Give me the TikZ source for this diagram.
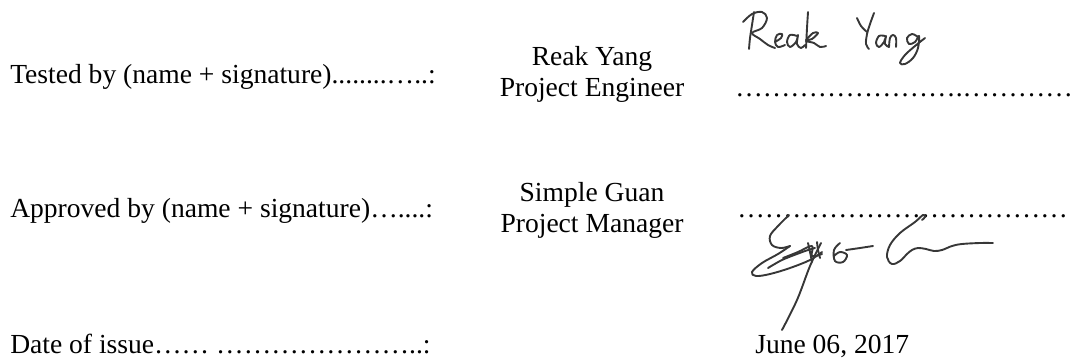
\documentclass[tikz,border=0pt]{standalone}
\usepackage{fontspec}
\setmainfont{Liberation Serif}
\definecolor{inkGray}{RGB}{55,55,55}

\begin{document}
\begin{tikzpicture}[
  x=0.025cm, y=-0.025cm,
  font=\fontsize{19.6}{23}\selectfont,
  field/.style={anchor=base west, inner sep=0pt},
  person/.style={anchor=base, inner sep=0pt},
  dotline/.style={anchor=base west, inner sep=0pt},
  ink/.style={draw=inkGray, line width=1.35pt, line cap=round, line join=round}
]
\useasboundingbox (0,0) rectangle (1076,361);

% Field labels on the left.
\node[field] (tested) at (10,83) {Tested by (name + signature)........…..:};
\node[field] (approved) at (10,217) {Approved by (name + signature)…....:};
\node[field] (issued) at (10,353) {Date of issue…… …………………..:};

% Names and roles.
\node[person] (testerName) at (592,65) {Reak Yang};
\node[person] (testerRole) at (592,97) {Project Engineer};
\node[person] (approverName) at (592,201) {Simple Guan};
\node[person] (approverRole) at (592,232) {Project Manager};
\node[field] (issueDate) at (755,353) {June 06, 2017};

% Signature lines.
\node[dotline] (testerLine) at (735,97) {\foreach \k in {1,...,8}{…}.\foreach \k in {1,...,4}{…}};
\node[dotline] (approverLine) at (737,217) {\foreach \k in {1,...,12}{…}};

% Handwritten signature of the tester.
\draw[ink] plot[smooth, tension=0.6] coordinates {(754,12) (752,25) (750,38) (749,49)};
\draw[ink] plot[smooth, tension=0.6] coordinates {(743,22) (752,14) (762,12) (767,18) (762,28) (752,33) (760,39) (768,45) (775,48)};
\draw[ink] plot[smooth, tension=0.6] coordinates {(775,42) (781,38) (782,34) (777,35) (775,42) (778,47) (785,45)};
\draw[ink] plot[smooth, tension=0.6] coordinates {(797,36) (790,35) (787,42) (790,47) (796,42) (798,35) (797,44) (801,48) (805,45)};
\draw[ink] plot[smooth, tension=0.6] coordinates {(808,12) (807,28) (806,48)};
\draw[ink] plot[smooth, tension=0.6] coordinates {(806,40) (813,33) (818,33) (812,39) (806,41) (814,43) (820,47) (826,46)};
\draw[ink] plot[smooth, tension=0.6] coordinates {(857,18) (861,26) (867,32)};
\draw[ink] plot[smooth, tension=0.6] coordinates {(874,13) (870,24) (867,34) (866,44) (869,49)};
\draw[ink] plot[smooth, tension=0.6] coordinates {(885,36) (879,36) (876,43) (879,47) (884,42) (886,36) (885,44) (889,47)};
\draw[ink] plot[smooth, tension=0.6] coordinates {(889,47) (890,38) (893,35) (896,38) (896,47)};
\draw[ink] plot[smooth, tension=0.6] coordinates {(918,37) (912,34) (907,38) (909,44) (915,42) (919,36) (918,48) (913,58) (905,64) (900,63) (905,55) (915,46) (925,38)};

% Handwritten signature of the approver.
\draw[ink] plot[smooth, tension=0.6] coordinates {(789,215) (778,226) (770,236) (772,245) (781,248) (790,246)};
\draw[ink] plot[smooth, tension=0.6] coordinates {(790,246) (778,254) (762,263) (752,272) (756,276) (770,274) (790,268) (810,260) (822,252)};
\draw[ink] plot[smooth, tension=0.6] coordinates {(768,268) (782,260) (797,254) (808,250) (815,248)};
\draw[ink] plot[smooth, tension=0.6] coordinates {(783,258) (798,252) (812,246) (812,256) (822,254)};
\draw[ink] plot[smooth, tension=0.6] coordinates {(808,243) (810,252) (812,262)};
\draw[ink] plot[smooth, tension=0.6] coordinates {(817,242) (818,250) (820,258)};
\draw[ink] plot[smooth, tension=0.6] coordinates {(821,243) (810,266) (797,300) (782,330)};
\draw[ink] plot[smooth, tension=0.6] coordinates {(840,243) (834,250) (835,261) (843,262) (847,255) (840,252) (834,256)};
\draw[ink] plot[smooth, tension=0.6] coordinates {(846,250) (860,248) (873,246)};
\draw[ink] plot[smooth, tension=0.6] coordinates {(922,220) (925,217) (923,215) (915,222) (900,233) (890,245) (887,257) (892,264) (900,261) (907,254) (912,250) (918,248) (926,249) (934,251) (942,250) (952,246) (962,244) (980,243) (993,243)};

\end{tikzpicture}
\end{document}
